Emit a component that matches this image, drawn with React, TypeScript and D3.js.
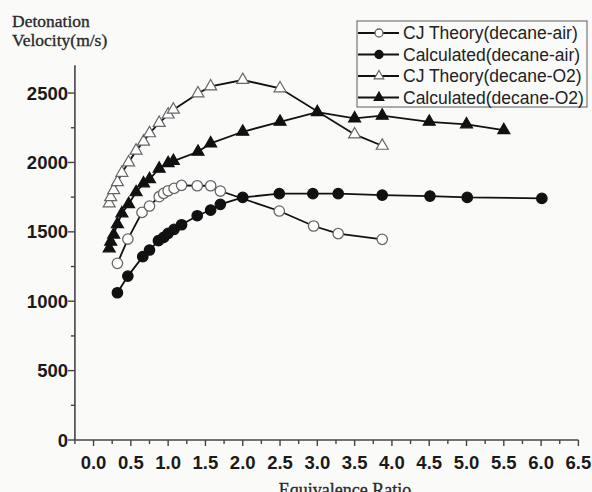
import React from "react";
import * as d3 from "d3";

// Equivalence ratio / detonation velocity (m/s) for each series
const cjAirX = [0.32, 0.46, 0.65, 0.75, 0.88, 0.94, 1.0, 1.08, 1.18, 1.39, 1.57, 1.7, 2.49, 2.95, 3.28, 3.87];
const cjAirY = [1273, 1448, 1640, 1686, 1753, 1777, 1796, 1813, 1835, 1832, 1832, 1794, 1650, 1542, 1487, 1446];

const calcAirX = [0.32, 0.46, 0.66, 0.75, 0.87, 0.94, 1.0, 1.08, 1.18, 1.39, 1.57, 1.7, 2.0, 2.49, 2.94, 3.28, 3.87, 4.51, 5.01, 6.01];
const calcAirY = [1061, 1181, 1321, 1369, 1436, 1460, 1489, 1518, 1551, 1616, 1657, 1698, 1748, 1775, 1775, 1775, 1765, 1758, 1748, 1741];

const cjO2X = [0.21, 0.23, 0.27, 0.32, 0.38, 0.47, 0.57, 0.67, 0.75, 0.88, 1.0, 1.07, 1.4, 1.57, 2.0, 2.5, 3.5, 3.87];
const cjO2Y = [1705, 1750, 1800, 1858, 1925, 2000, 2085, 2150, 2210, 2285, 2345, 2380, 2497, 2548, 2594, 2534, 2202, 2120];

const calcO2X = [0.21, 0.23, 0.27, 0.32, 0.38, 0.47, 0.57, 0.67, 0.75, 0.88, 1.0, 1.07, 1.4, 1.57, 2.0, 2.5, 3.0, 3.5, 3.87, 4.5, 5.0, 5.5];
const calcO2Y = [1381, 1429, 1480, 1555, 1633, 1700, 1785, 1849, 1880, 1955, 1995, 2010, 2077, 2137, 2221, 2293, 2362, 2317, 2337, 2293, 2274, 2233];

const seriesNames = [
  "CJ Theory(decane-air)",
  "Calculated(decane-air)",
  "CJ Theory(decane-O2)",
  "Calculated(decane-O2)",
];

const xTicks = [0, 0.5, 1, 1.5, 2, 2.5, 3, 3.5, 4, 4.5, 5, 5.5, 6, 6.5];
const yTicks = [0, 500, 1000, 1500, 2000, 2500];

type Marker = "circle" | "triangle";
interface Series {
  name: string;
  xs: number[];
  ys: number[];
  marker: Marker;
  filled: boolean;
}

const series: Series[] = [
  { name: seriesNames[0], xs: cjAirX, ys: cjAirY, marker: "circle", filled: false },
  { name: seriesNames[1], xs: calcAirX, ys: calcAirY, marker: "circle", filled: true },
  { name: seriesNames[2], xs: cjO2X, ys: cjO2Y, marker: "triangle", filled: false },
  { name: seriesNames[3], xs: calcO2X, ys: calcO2Y, marker: "triangle", filled: true },
];

const W = 592;
const H = 492;

const x = d3.scaleLinear().domain([-0.25, 6.5]).range([74.9, 578.4]);
const y = d3.scaleLinear().domain([0, 2700]).range([440, 65.3]);

const triPath = d3.symbol().type(d3.symbolTriangle).size(62)() as string;
const triSmall = d3.symbol().type(d3.symbolTriangle).size(40)() as string;

function MarkerShape({ m, filled, cx, cy, small }: { m: Marker; filled: boolean; cx: number; cy: number; small?: boolean }) {
  const fill = filled ? "#111" : "#fff";
  const stroke = filled ? "#111" : "#666";
  if (m === "circle") {
    return <circle cx={cx} cy={cy} r={small ? 4 : 5.2} fill={fill} stroke={stroke} strokeWidth={1.3} />;
  }
  return (
    <path d={small ? triSmall : triPath} transform={`translate(${cx},${cy})`} fill={fill} stroke={stroke} strokeWidth={1.2} />
  );
}

export default function App() {
  const line = d3
    .line<[number, number]>()
    .x((d) => x(d[0]))
    .y((d) => y(d[1]));

  const xMinor = d3.range(-0.25, 6.51, 0.25);
  const yMinor = d3.range(250, 2700, 500);

  const tickFont = "'Liberation Sans', Arial, sans-serif";
  const serif = "'Liberation Serif', 'Times New Roman', serif";

  const legendX = 357;
  const legendY = 21;
  const legendRows = [33, 54.5, 76, 97.5];

  return (
    <svg width={W} height={H} style={{ position: "absolute", left: 0, top: 0, display: "block" }}>
      <rect x={0} y={0} width={W} height={H} fill="#fafaf9" />

      {/* axis titles */}
      <text x={12} y={27} fontFamily={serif} fontSize={17.5} fill="#2a2a2a" stroke="#2a2a2a" strokeWidth={0.35}>
        Detonation
      </text>
      <text x={12} y={46} fontFamily={serif} fontSize={17.5} fill="#2a2a2a" stroke="#2a2a2a" strokeWidth={0.35}>
        Velocity(m/s)
      </text>
      <text
        x={345}
        y={496}
        textAnchor="middle"
        fontFamily={serif}
        fontSize={18}
        fill="#2a2a2a"
        stroke="#2a2a2a"
        strokeWidth={0.35}
      >
        Equivalence Ratio
      </text>

      {/* axes */}
      <line x1={x(-0.25)} x2={x(-0.25)} y1={y(2700)} y2={y(0)} stroke="#444" strokeWidth={1.6} />
      <line x1={x(-0.25)} x2={x(6.5)} y1={y(0)} y2={y(0)} stroke="#444" strokeWidth={1.6} />

      {xMinor.map((v, i) => {
        const major = Math.abs(v * 2 - Math.round(v * 2)) < 1e-6 && v >= 0;
        return (
          <line
            key={`xm${i}`}
            x1={x(v)}
            x2={x(v)}
            y1={y(0)}
            y2={y(0) + (major ? 6 : 4)}
            stroke="#444"
            strokeWidth={1.4}
          />
        );
      })}
      {yTicks.map((v) => (
        <line key={`yt${v}`} x1={x(-0.25) - 7} x2={x(-0.25)} y1={y(v)} y2={y(v)} stroke="#444" strokeWidth={1.4} />
      ))}
      {yMinor.map((v) => (
        <line key={`ym${v}`} x1={x(-0.25) - 4} x2={x(-0.25)} y1={y(v)} y2={y(v)} stroke="#444" strokeWidth={1.4} />
      ))}

      {xTicks.map((v) => (
        <text
          key={`xl${v}`}
          x={x(v)}
          y={469}
          textAnchor="middle"
          fontFamily={tickFont}
          fontWeight="bold"
          fontSize={18.5}
          fill="#1a1a1a"
        >
          {v.toFixed(1)}
        </text>
      ))}
      {yTicks.map((v) => (
        <text
          key={`yl${v}`}
          x={68}
          y={y(v) + 6.5}
          textAnchor="end"
          fontFamily={tickFont}
          fontWeight="bold"
          fontSize={18.5}
          fill="#1a1a1a"
        >
          {v}
        </text>
      ))}

      {/* series lines */}
      {series.map((s) => (
        <path
          key={`l-${s.name}`}
          d={line(s.xs.map((v, i) => [v, s.ys[i]] as [number, number])) || ""}
          fill="none"
          stroke="#111"
          strokeWidth={1.8}
        />
      ))}
      {/* series markers */}
      {series.map((s) => (
        <g key={`m-${s.name}`}>
          {s.xs.map((v, i) => (
            <MarkerShape key={i} m={s.marker} filled={s.filled} cx={x(v)} cy={y(s.ys[i])} />
          ))}
        </g>
      ))}

      {/* legend */}
      <rect x={legendX} y={legendY} width={230} height={86} fill="#fafaf9" stroke="#777" strokeWidth={1.2} />
      {series.map((s, i) => (
        <g key={`lg-${s.name}`}>
          <line x1={358} x2={399} y1={legendRows[i]} y2={legendRows[i]} stroke="#111" strokeWidth={1.8} />
          <MarkerShape m={s.marker} filled={s.filled} cx={379} cy={legendRows[i]} small />
          <text x={403} y={legendRows[i] + 6} fontFamily={tickFont} fontSize={17.5} fill="#222">
            {s.name}
          </text>
        </g>
      ))}
    </svg>
  );
}
